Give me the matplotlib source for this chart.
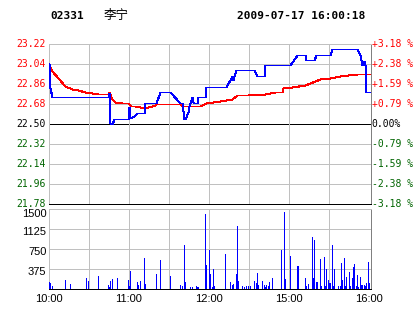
import matplotlib
matplotlib.use("Agg")
import matplotlib.pyplot as plt
from matplotlib.transforms import offset_copy

# ---------------- data ----------------
code = "02331"
name = "李宁"
stamp = "2009-07-17 16:00:18"
prev_close = 22.50
pct_range = 3.18

left_labels = ["23.22", "23.04", "22.86", "22.68", "22.50", "22.32", "22.14", "21.96", "21.78"]
right_labels = ["+3.18 %", "+2.38 %", "+1.59 %", "+0.79 %", "0.00%", "-0.79 %", "-1.59 %", "-2.38 %", "-3.18 %"]
time_labels = ["10:00", "11:00", "12:00", "15:00", "16:00"]
time_label_pos = [0, 60, 120, 180, 240]       # trading minutes
vol_labels = ["1500", "1125", "750", "375"]
vol_label_vals = [1500, 1125, 750, 375]

# price (blue) : trading minute, price
price_t = [0, 1, 2, 44, 45, 46, 47, 49, 59, 60, 61, 64, 66, 71, 72, 80, 83, 91, 98, 100,
           101, 102, 104, 105, 107, 108, 109, 111, 112, 117, 118, 133, 137, 138, 139, 140,
           154, 156, 161, 162, 181, 186, 192, 193, 199, 200, 211, 212, 231, 233, 235, 236,
           237, 238, 241.5]
price_v = [23.04, 22.82, 22.74, 22.74, 22.78, 22.51, 22.50, 22.545, 22.545, 22.65, 22.55, 22.575, 22.60, 22.60, 22.69, 22.69, 22.79, 22.79, 22.69, 22.69,
           22.545, 22.545, 22.61, 22.66, 22.74, 22.70, 22.69, 22.69, 22.74, 22.74, 22.83, 22.83, 22.93, 22.89, 22.93, 22.98,
           22.98, 22.93, 22.93, 23.03, 23.03, 23.12, 23.12, 23.075, 23.075, 23.12, 23.12, 23.17, 23.17, 23.12, 23.03, 23.06,
           23.03, 22.79, 22.79]

# average price (red)
avg_t = [0, 2, 7, 12, 17, 22, 27, 32, 37, 44.5, 45, 47, 49.5, 54.5, 59.5, 61.5, 64.5, 68, 72, 79.5,
         80.5, 90.75, 98, 100.5, 113, 118, 128, 137, 140.75, 149.5, 162, 169.5, 174.5, 175.75, 182, 192,
         196, 203, 211, 218, 224.5, 231, 241.5]
avg_v = [23.03, 22.97, 22.91, 22.84, 22.81, 22.80, 22.79, 22.78, 22.77, 22.77, 22.79, 22.72, 22.70, 22.69, 22.69, 22.66, 22.66, 22.65, 22.64, 22.67,
         22.68, 22.68, 22.68, 22.66, 22.66, 22.69, 22.71, 22.72, 22.76, 22.76, 22.77, 22.79, 22.79, 22.82, 22.83, 22.85,
         22.87, 22.90, 22.91, 22.93, 22.94, 22.95, 22.95]

# volume bars
vol_t = [0, 1, 2, 12, 16, 28, 29, 37, 44, 45, 46, 47, 51, 59, 60, 61, 66, 67, 68, 71, 72, 80, 83, 91,
         98, 100, 101, 102, 106, 107, 110, 111, 112, 117, 118, 120, 121, 122, 123, 124, 132, 136, 137,
         138, 140, 141, 142, 145, 146, 148, 149, 151, 154, 155, 156, 157, 160, 161, 162, 163, 164, 165,
         167, 174, 176, 177, 181, 186, 187, 192, 193, 194, 197, 198, 199, 200, 201, 203, 204, 206, 207,
         208, 209, 210, 211, 212, 213, 214, 217, 218, 219, 220, 221, 222, 223, 225, 226, 227, 228, 229,
         230, 231, 232, 233, 234, 235, 236, 237, 238, 239, 240, 241.5]
vol_v = [130, 120, 60, 175, 100, 200, 150, 250, 70, 30, 150, 180, 200, 160, 50, 330, 130, 70, 150, 590, 90, 290, 550, 240,
         80, 60, 830, 130, 40, 40, 60, 40, 40, 1410, 450, 740, 290, 40, 370, 60, 660, 130, 70,
         90, 290, 1190, 150, 60, 40, 60, 60, 60, 150, 110, 300, 80, 150, 80, 40, 80, 60, 130,
         200, 740, 1450, 180, 610, 440, 440, 200, 60, 100, 975, 215, 920, 140, 140, 560, 60, 600, 60,
         370, 160, 120, 120, 820, 60, 370, 60, 60, 480, 160, 580, 60, 230, 310, 60, 215, 420, 460,
         60, 270, 45, 230, 80, 80, 80, 60, 120, 500, 120, 180]

# ---------------- styling ----------------
W, H = 414, 314
RED = "#ff0000"
GREEN = "#006400"
BLUE = "#0000ff"
GRID = "#c0c0c0"
BORDER = "#808080"
lw = 0.5

fig = plt.figure(figsize=(W / 100, H / 100), dpi=100)
fig.patch.set_facecolor("white")


def rect(l, t, r, b):
    return [l / W, 1 - b / H, (r - l) / W, (b - t) / H]


xmax = 241.5
span = prev_close * pct_range / 100
levels = [prev_close + span * (4 - k) / 4 for k in range(9)]

# ---- price panel ----
ax = fig.add_axes(rect(49, 44, 371, 204))
ax.set_xlim(0, xmax)
ax.set_ylim(prev_close - span, prev_close + span)
ax.set_xticks([])
ax.set_yticks([])
for k, lv in enumerate(levels[1:-1], start=1):
    ax.axhline(lv, color="black" if k == 4 else GRID, lw=lw, antialiased=False, zorder=1)
for xv in range(30, 240, 30):
    ax.axvline(xv, color=GRID, lw=lw, antialiased=False, zorder=1)
for s in ["left", "top"]:
    ax.spines[s].set_color(GRID)
ax.spines["right"].set_color(BORDER)
ax.spines["bottom"].set_color("black")
for s in ax.spines.values():
    s.set_linewidth(lw)
    s.set_antialiased(False)
ax.plot(avg_t, avg_v, color=RED, lw=0.72, antialiased=False, snap=True, zorder=3)
ax.plot(price_t, price_v, color=BLUE, lw=0.72, antialiased=False, snap=True, zorder=4)

mono = "DejaVu Sans Mono"
for k, (lv, lab) in enumerate(zip(levels, left_labels)):
    col = RED if k < 4 else ("black" if k == 4 else GREEN)
    ax.text(-0.01, lv, lab, transform=ax.get_yaxis_transform(), ha="right", va="center",
            color=col, fontsize=7.0, family=mono)
for k, (lv, lab) in enumerate(zip(levels, right_labels)):
    col = RED if k < 4 else ("black" if k == 4 else GREEN)
    ax.text(1.002, lv, lab, transform=ax.get_yaxis_transform(), ha="left", va="center",
            color=col, fontsize=7.0, family=mono)

# ---- volume panel ----
av = fig.add_axes(rect(49, 209, 371, 289))
av.set_xlim(0, xmax)
av.set_ylim(0, 1500)
av.set_xticks([])
av.set_yticks([])
for yv in vol_label_vals[1:]:
    av.axhline(yv, color=GRID, lw=lw, antialiased=False, zorder=1)
for xv in range(30, 240, 30):
    av.axvline(xv, color=GRID, lw=lw, antialiased=False, zorder=1)
for s in ["left", "top"]:
    av.spines[s].set_color(GRID)
av.spines["right"].set_color(BORDER)
av.spines["bottom"].set_color("black")
for s in av.spines.values():
    s.set_linewidth(lw)
    s.set_antialiased(False)
av.vlines(vol_t, 0, vol_v, colors=BLUE, lw=0.5, antialiased=False, zorder=3)

sans = "Liberation Sans"
for yv, lab in zip(vol_label_vals, vol_labels):
    off = -5 if yv == 1500 else -3
    tr = offset_copy(av.get_yaxis_transform(), fig=fig, x=-2.5, y=off, units="dots")
    av.text(0, yv, lab, transform=tr, ha="right", va="center", fontsize=8, family=sans)
for xv, lab in zip(time_label_pos, time_labels):
    av.text(xv, -0.125, lab, transform=av.get_xaxis_transform(), ha="center", va="center",
            fontsize=8, family=sans)

# ---- header ----
fig.text(50 / W, 1 - 16 / H, code, ha="left", va="center", fontsize=8, family=mono,
         fontweight="bold")
fig.text(104 / W, 1 - 16 / H, name, ha="left", va="center", fontsize=9,
         family=["Noto Sans CJK SC", "DejaVu Sans"])
fig.text(237 / W, 1 - 16 / H, stamp, ha="left", va="center", fontsize=8, family=mono,
         fontweight="bold")

fig.savefig("out.png", dpi=100, facecolor="white")
